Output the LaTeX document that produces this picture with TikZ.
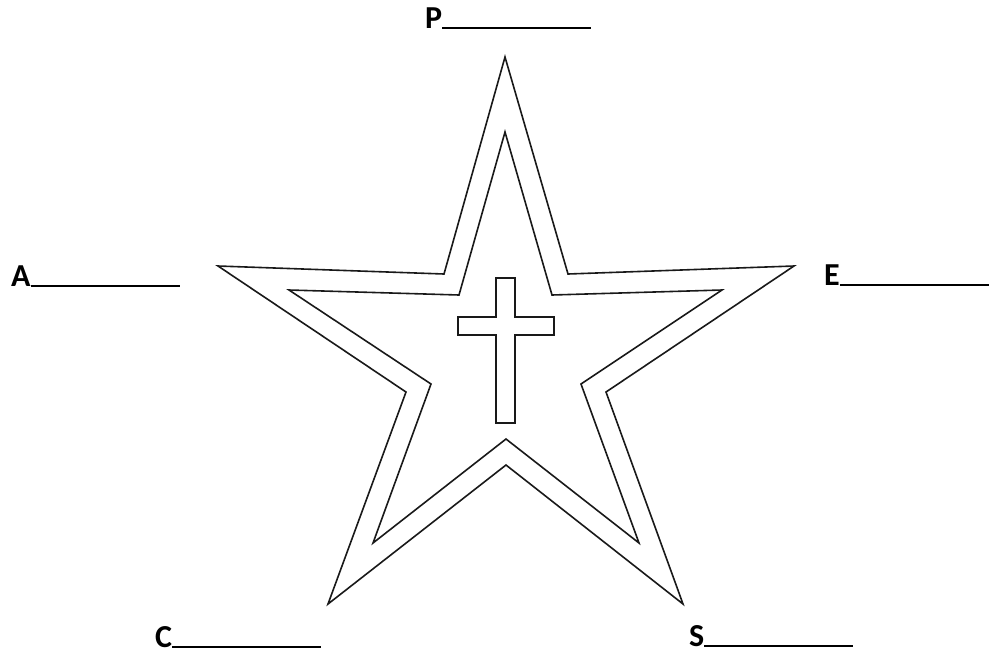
\documentclass[tikz,border=0pt]{standalone}
\usepackage{fontspec}
\setmainfont{Carlito}
\usetikzlibrary{positioning}

\newcommand{\blankline}[1]{#1\rule[-0.5pt]{149pt}{1.3pt}}

\begin{document}
\begin{tikzpicture}[
  x=1pt, y=-1pt,
  outline/.style={draw=black!90, line width=1.6pt, line join=miter},
  label/.style={anchor=base west, inner sep=0pt, font=\fontsize{32}{36}\selectfont\bfseries}
]
  \useasboundingbox (0,0) rectangle (1000,654);

  % outer star
  \coordinate (o1) at (505,57);
  \coordinate (o2) at (568,274);
  \coordinate (o3) at (794,266);
  \coordinate (o4) at (606,392);
  \coordinate (o5) at (683,604);
  \coordinate (o6) at (506,465);
  \coordinate (o7) at (328,604);
  \coordinate (o8) at (406,392);
  \coordinate (o9) at (218,266);
  \coordinate (o10) at (444,274);
  \draw[outline] (o1) -- (o2) -- (o3) -- (o4) -- (o5) -- (o6) -- (o7) -- (o8) -- (o9) -- (o10) -- cycle;

  % inner star
  \coordinate (i1) at (505,132);
  \coordinate (i2) at (552,295);
  \coordinate (i3) at (722,290);
  \coordinate (i4) at (581,384);
  \coordinate (i5) at (639,543);
  \coordinate (i6) at (506,439);
  \coordinate (i7) at (373,543);
  \coordinate (i8) at (431,384);
  \coordinate (i9) at (289,290);
  \coordinate (i10) at (459,295);
  \draw[outline] (i1) -- (i2) -- (i3) -- (i4) -- (i5) -- (i6) -- (i7) -- (i8) -- (i9) -- (i10) -- cycle;

  % cross
  \draw[outline] (496,278) -- (515,278) -- (515,317) -- (554,317) -- (554,335) -- (515,335)
    -- (515,423) -- (496,423) -- (496,335) -- (458,335) -- (458,317) -- (496,317) -- cycle;

  % labels
  \node[label] (p) at (425,28) {\blankline{P}};
  \node[label] (a) at (11,286) {\blankline{A}};
  \node[label] (e) at (824,285) {\blankline{E}};
  \node[label] (c) at (155,647) {\blankline{C}};
  \node[label] (s) at (689,646) {\blankline{S}};
\end{tikzpicture}
\end{document}
